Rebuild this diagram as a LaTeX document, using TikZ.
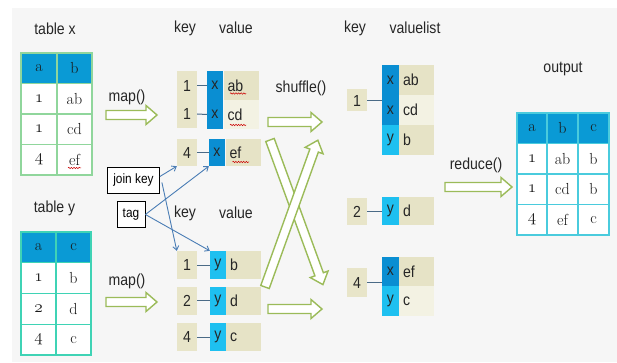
\documentclass[tikz,border=0pt]{standalone}
\usepackage{fontspec}
\usetikzlibrary{arrows.meta,decorations.pathmorphing}
\newfontfamily\lblfont[FakeStretch=0.88]{Liberation Sans}
\newcommand\tabfont{\rmfamily\fontsize{16}{18}\selectfont}
% old-style figures taken from the math italic font
\newcommand\osn[1]{{\usefont{OML}{cmm}{m}{it}#1}}

\definecolor{bggray}{HTML}{F6F6F6}
\definecolor{hdrblue}{HTML}{0A9AD5}
\definecolor{xgreen}{HTML}{90D69C}
\definecolor{yteal}{HTML}{3FD3B5}
\definecolor{outcyan}{HTML}{4ACBDD}
\definecolor{keybeige}{HTML}{E8E5C9}
\definecolor{valdark}{HTML}{E6E3C6}
\definecolor{vallight}{HTML}{F3F2E3}
\definecolor{tagx}{HTML}{0A8ED2}
\definecolor{tagy}{HTML}{1EC0F0}
\definecolor{olive}{HTML}{9BBB59}
\definecolor{linkblue}{HTML}{4A7DB5}
\definecolor{stub}{HTML}{4A6A86}

\begin{document}
\begin{tikzpicture}[x=1pt,y=-1pt,
  lbl/.style={font=\lblfont\fontsize{16}{18}\selectfont, inner sep=0pt, text=black!85},
  cell/.style={minimum height=30.5pt, inner sep=0pt, line width=1.2pt, font=\tabfont, text=black!90},
  boxfont/.style={font=\lblfont\fontsize{16}{18}\selectfont, text=black!85},
  kbox/.style={boxfont, fill=keybeige, minimum width=20pt, inner sep=0pt},
  tbox/.style={boxfont, minimum width=16pt, inner sep=0pt},
  vbox/.style={boxfont, text width=27pt, inner xsep=4pt, inner ysep=0pt, align=left},
  stubline/.style={draw=stub, line width=1pt},
  link/.style={draw=linkblue, line width=0.9pt, -{Straight Barb[length=4pt,width=6pt]}},
  tagbox/.style={draw=black, line width=0.8pt, fill=white, inner sep=0pt,
    font=\lblfont\fontsize{13.5}{15}\selectfont},
  squig/.style={draw=red!80!black, line width=0.5pt, decorate,
    decoration={snake, amplitude=0.7pt, segment length=2.6pt}},
  blockarr/.style={draw=olive, line width=1.4pt, fill=white, line join=miter},
  garr/.pic={\path[blockarr] (0,-4.5) -- ({#1-11},-4.5) -- ({#1-11},-9.5) -- (#1,0)
      -- ({#1-11},9.5) -- ({#1-11},4.5) -- (0,4.5) -- cycle;}
]
\useasboundingbox (0,0) rectangle (617,363);
\fill[bggray] (12,8) rectangle (617,362);

% ---- headings ----
\node[lbl] (lx)  at (55,29)   {table x};
\node[lbl] (ly)  at (54.5,208) {table y};
\node[lbl] (k1h) at (185,28)  {key};
\node[lbl] (v1h) at (236,28)  {value};
\node[lbl] (k2h) at (185,213) {key};
\node[lbl] (v2h) at (236,213) {value};
\node[lbl] (k3h) at (355,28)  {key};
\node[lbl] (v3h) at (415,28)  {valuelist};
\node[lbl] (outh) at (563,69) {output};
\node[lbl] (map1) at (127,97)  {map()};
\node[lbl] (map2) at (127,281) {map()};
\node[lbl] (shuf) at (301,88)  {shuffle()};
\node[lbl] (red)  at (476,165) {reduce()};

% ---- table x ----
\foreach \yy/\p/\q/\f [count=\i] in {68.25/a/b/hdrblue, 98.75/\osn{1}/ab/white,
    129.25/\osn{1}/cd/white, 159.75/\osn{4}/ef/white} {
  \node[cell, draw=xgreen, fill=\f, minimum width=36pt] (tx-\i-1) at (39,\yy) {\p};
  \node[cell, draw=xgreen, fill=\f, minimum width=35pt] (tx-\i-2) at (74.5,\yy) {\q};
}
% ---- table y ----
\foreach \yy/\p/\q/\f [count=\i] in {247.4/a/c/hdrblue, 278.1/\osn{1}/b/white,
    308.9/\osn{2}/d/white, 339.6/\osn{4}/c/white} {
  \node[cell, draw=yteal, fill=\f, minimum width=35pt, minimum height=30.75pt] (ty-\i-1) at (38.5,\yy) {\p};
  \node[cell, draw=yteal, fill=\f, minimum width=35pt, minimum height=30.75pt] (ty-\i-2) at (73.5,\yy) {\q};
}
% ---- output table ----
\foreach \yy/\p/\q/\r/\f [count=\i] in {128.25/a/b/c/hdrblue, 158.75/\osn{1}/ab/b/white,
    189.25/\osn{1}/cd/b/white, 219.75/\osn{4}/ef/c/white} {
  \node[cell, draw=outcyan, fill=\f, minimum width=30pt] (to-\i-1) at (532,\yy) {\p};
  \node[cell, draw=outcyan, fill=\f, minimum width=31pt] (to-\i-2) at (562.5,\yy) {\q};
  \node[cell, draw=outcyan, fill=\f, minimum width=31pt] (to-\i-3) at (593.5,\yy) {\r};
}

% ---- map output for table x ----
\node[kbox, minimum height=29pt] (mk1) at (187,85.5) {1};
\node[tbox, fill=tagx, minimum height=29pt] (mt1) at (215,85.5) {x};
\node[vbox, fill=valdark, minimum height=29pt] (mv1) at (241,85.5) {ab};
\node[kbox, minimum height=28pt] (mk2) at (187,114) {1};
\node[tbox, fill=tagx, minimum height=29pt] (mt2) at (215,114.5) {x};
\node[vbox, fill=vallight, minimum height=29pt] (mv2) at (241,114.5) {cd};
\node[kbox, minimum height=27pt] (mk3) at (187,152.5) {4};
\node[tbox, fill=tagx, minimum height=27pt] (mt3) at (217,152.5) {x};
\node[vbox, fill=valdark, minimum height=27pt] (mv3) at (243,152.5) {ef};
\foreach \n in {1,2,3} \draw[stubline] (mk\n.east) -- (mt\n.west);

% ---- map output for table y ----
\foreach \yy/\k/\v [count=\i] in {265/1/b, 300.5/2/d, 337/4/c} {
  \node[kbox, minimum height=28pt] (nk\i) at (187,\yy) {\k};
  \node[tbox, fill=tagy, minimum height=28pt] (nt\i) at (218,\yy) {y};
  \node[vbox, fill=valdark, minimum height=28pt] (nv\i) at (243.5,\yy) {\v};
  \draw[stubline] (nk\i.east) -- (nt\i.west);
}

% ---- shuffled groups ----
\node[kbox, minimum height=22pt] (r1k) at (357,100.5) {1};
\node[tbox, fill=tagx, minimum height=30pt, minimum width=17pt] (r1t1) at (390.5,80)  {x};
\node[tbox, fill=tagx, minimum height=30pt, minimum width=17pt] (r1t2) at (390.5,110) {x};
\node[tbox, fill=tagy, minimum height=30pt, minimum width=17pt] (r1t3) at (390.5,140) {y};
\node[vbox, fill=valdark,  minimum height=30pt] (r1v1) at (416.5,80)  {ab};
\node[vbox, fill=vallight, minimum height=30pt] (r1v2) at (416.5,110) {cd};
\node[vbox, fill=valdark,  minimum height=30pt] (r1v3) at (416.5,140) {b};
\draw[stubline] (r1k.east) -- (r1k.east -| r1t2.west);

\node[kbox, minimum height=27pt] (r2k) at (357,211.5) {2};
\node[tbox, fill=tagy, minimum height=28pt, minimum width=17pt] (r2t) at (390.5,211) {y};
\node[vbox, fill=valdark, minimum height=28pt] (r2v) at (416.5,211) {d};
\draw[stubline] (r2k.east) -- (r2k.east -| r2t.west);

\node[kbox, minimum height=29pt] (r3k) at (357,282.5) {4};
\node[tbox, fill=tagx, minimum height=29pt, minimum width=17pt] (r3t1) at (390.5,271.5) {x};
\node[tbox, fill=tagy, minimum height=30pt, minimum width=17pt] (r3t2) at (390.5,301)   {y};
\node[vbox, fill=valdark,  minimum height=29pt] (r3v1) at (416.5,271.5) {ef};
\node[vbox, fill=vallight, minimum height=30pt] (r3v2) at (416.5,301)   {c};
\draw[stubline] (r3k.east) -- (r3k.east -| r3t1.west);

% ---- spelling marks under value texts ----
\draw[squig] (68,168) -- (81,168);
\draw[squig] (230,93.5) -- (246,93.5);
\draw[squig] (230,125) -- (246,125);
\draw[squig] (232.5,162) -- (249,162);

% ---- block arrows ----
\pic at (106,115) {garr=51};
\pic at (106,302) {garr=51};
\pic at (268,122) {garr=54};
\pic at (268,309) {garr=54};
\pic[rotate=-69.9] at (270,140) {garr=154};
\pic[rotate=70.2] at (265,287) {garr=156};
\pic at (445,187) {garr=67};

% ---- join key and tag callouts ----
\node[tagbox, minimum width=52pt, minimum height=26pt] (jk) at (133.5,180.5) {join key};
\node[tagbox, minimum width=28pt, minimum height=25.5pt] (tg) at (131,214.5) {tag};
\draw[link] (jk.east) ++(0,-4) coordinate (jka) (jka) -- (mk3.south west);
\draw[link] (jk.east) ++(2,2) coordinate (jkb) (jkb) -- (nk1.north west);
\draw[link] (tg.east) -- (mt3.south west);
\draw[link] (tg.east) -- (nt1.north west);
\end{tikzpicture}
\end{document}
